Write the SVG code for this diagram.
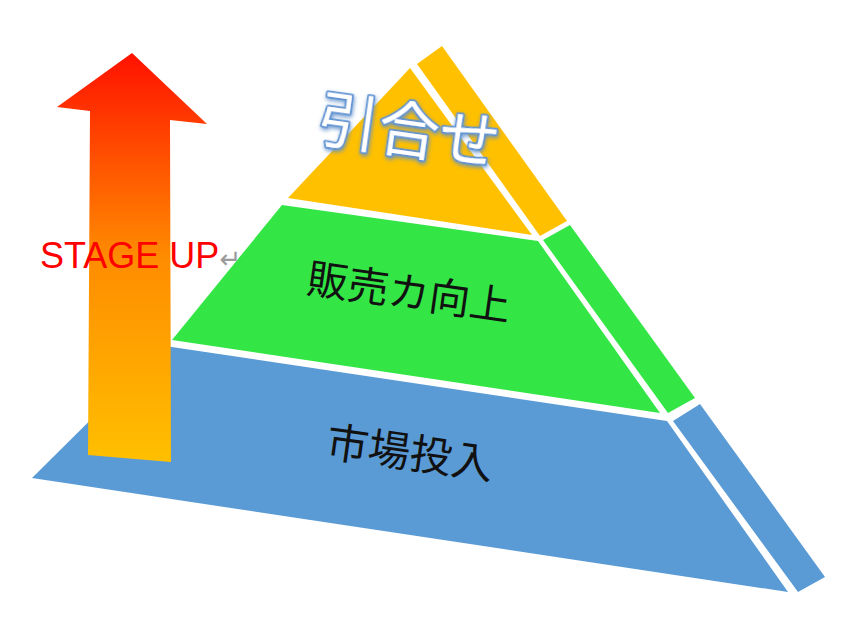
<svg xmlns="http://www.w3.org/2000/svg" width="861" height="627" viewBox="0 0 861 627">
<defs>
<linearGradient id="arrowGrad" gradientUnits="userSpaceOnUse" x1="0" y1="53" x2="0" y2="462">
<stop offset="0" stop-color="#ff1100"/>
<stop offset="0.5" stop-color="#ff8c00"/>
<stop offset="1" stop-color="#ffc000"/>
</linearGradient>
<filter id="glow" x="-20%" y="-30%" width="140%" height="160%">
<feGaussianBlur in="SourceAlpha" stdDeviation="2"/>
<feOffset dx="1" dy="2" result="b"/>
<feFlood flood-color="#5f8fcc" flood-opacity="0.9"/>
<feComposite in2="b" operator="in" result="s"/>
<feMerge><feMergeNode in="s"/><feMergeNode in="SourceGraphic"/></feMerge>
</filter>
</defs>
<style>
.orange{fill:#ffc000}
.green{fill:#33e646}
.blue{fill:#5b9bd5}
.jp{font-family:"Noto Sans CJK JP","Noto Sans CJK SC",sans-serif;text-anchor:middle}
.label{font-size:41px;fill:#111}
.title{font-size:61px;fill:#ffffff;stroke:#5f93d2;stroke-width:3.5;paint-order:stroke;stroke-linejoin:round}
</style>
<rect width="861" height="627" fill="#ffffff"/>
<g id="tier-top">
<polygon class="orange" points="410,68 288,198 532,235"/>
<polygon class="orange" points="417,64 442,46 567,221 540,236"/>
<text class="jp title" x="409" y="153" transform="rotate(8 409 130)" filter="url(#glow)">引合せ</text>
</g>
<g id="tier-middle">
<polygon class="green" points="282,205 538,241 660,413 172,340"/>
<polygon class="green" points="543,240 570,225 695,398 668,413"/>
<text class="jp label" x="409" y="307" transform="rotate(8 409 292)">販売カ向上</text>
</g>
<g id="tier-bottom">
<polygon class="blue" points="165,346 667,421 788,592 32,478"/>
<polygon class="blue" points="673,421 700,404 825,577 798,592"/>
<text class="jp label" x="410" y="468" font-size="42" transform="rotate(8 410 453)" style="font-size:42px">市場投入</text>
</g>
<g id="connectors">
<polygon id="stage-arrow" fill="url(#arrowGrad)" points="132,53 207,124 170,120 171,462 88,455 90,111 57,107"/>
</g>
<g id="stage-label">
<text x="40" y="268" font-family="'Liberation Sans',Arial,sans-serif" font-size="36" fill="#ff0000">STAGE UP<tspan font-family="'DejaVu Sans',sans-serif" font-size="26" fill="#9a9a9a">↵</tspan></text>
</g>
</svg>
